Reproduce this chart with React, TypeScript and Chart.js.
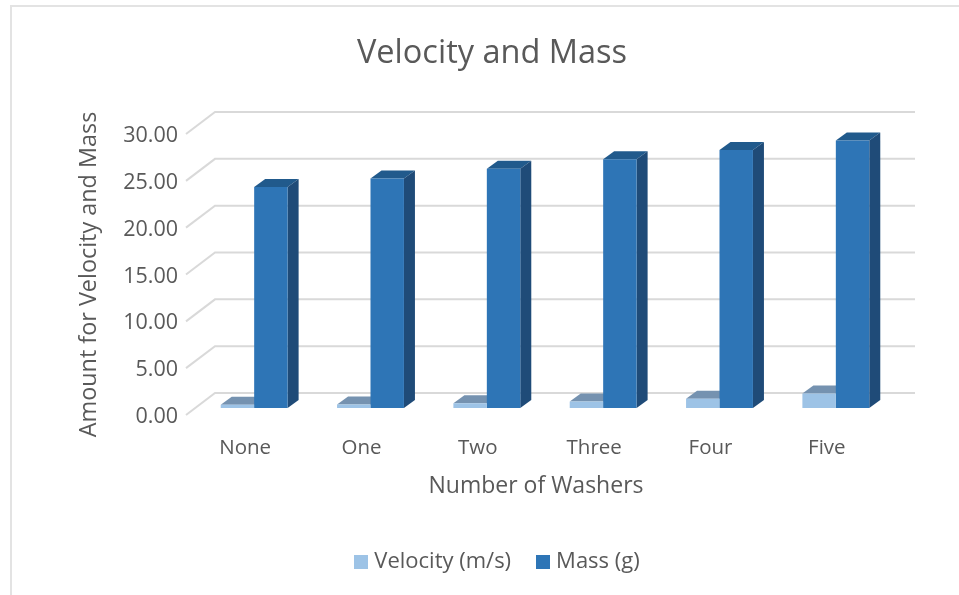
import React, { useEffect, useRef } from "react";
import { Chart, registerables } from "chart.js";

Chart.register(...registerables);

const categories = ["None", "One", "Two", "Three", "Four", "Five"];
const velocity = [0.35, 0.38, 0.5, 0.7, 1.0, 1.55];
const mass = [23.6, 24.5, 25.55, 26.55, 27.55, 28.55];
const FONT = '"Open Sans", sans-serif';
const TEXT = "#595959";
const GRID = "#d9d9d9";
const FLOOR_X = 9;
const FLOOR_Y = -7;
const DX = 11;
const DY = 8;
const WALL_DX = 29;
const WALL_DY = 22;
const seriesColors = ["#9DC3E6", "#2E75B6"];

const faces = [
  { top: "#7592B0", side: "#6A8CAE" },
  { top: "#215A8C", side: "#1F4B78" },
];

const swatch = (color: string) => {
  const c = document.createElement("canvas");
  c.width = 14;
  c.height = 14;
  const g = c.getContext("2d")!;
  g.fillStyle = color;
  g.fillRect(0, 0, 14, 14);
  return c;
};

const depthPlugin = {
  id: "depth",
  afterLayout(chart: any) {
    chart.legend.left += 15;
    chart.legend.top -= 12;
  },
  beforeDraw(chart: any) {
    const { ctx, width, height } = chart;
    ctx.save();
    ctx.fillStyle = "#ffffff";
    ctx.fillRect(0, 0, width, height);
    ctx.strokeStyle = "#e3e3e3";
    ctx.lineWidth = 2;
    ctx.beginPath();
    ctx.moveTo(11, height);
    ctx.lineTo(11, 6);
    ctx.lineTo(width, 6);
    ctx.stroke();
    ctx.restore();
  },
  beforeDatasetsDraw(chart: any) {
    const { ctx, chartArea, scales } = chart;
    ctx.save();
    ctx.strokeStyle = GRID;
    ctx.lineWidth = 2;
    scales.y.ticks.forEach((t: any) => {
      const y = scales.y.getPixelForValue(t.value);
      ctx.beginPath();
      ctx.moveTo(chartArea.left - 1, y);
      ctx.lineTo(chartArea.left - 1 + WALL_DX, y - WALL_DY);
      ctx.lineTo(chartArea.right + 1 + WALL_DX, y - WALL_DY);
      ctx.stroke();
    });
    ctx.restore();
    ctx.save();
    ctx.translate(FLOOR_X, FLOOR_Y);
    chart.data.datasets.forEach((_: any, i: number) => {
      chart.getDatasetMeta(i).data.forEach((bar: any) => {
        const { x, y, base, width } = bar.getProps(["x", "y", "base", "width"], true);
        const l = x - width / 2;
        const r = x + width / 2;
        ctx.fillStyle = faces[i].top;
        ctx.beginPath();
        ctx.moveTo(l, y);
        ctx.lineTo(l + DX, y - DY);
        ctx.lineTo(r + DX, y - DY);
        ctx.lineTo(r, y);
        ctx.closePath();
        ctx.fill();
        ctx.fillStyle = faces[i].side;
        ctx.beginPath();
        ctx.moveTo(r, y);
        ctx.lineTo(r + DX, y - DY);
        ctx.lineTo(r + DX, base - DY);
        ctx.lineTo(r, base);
        ctx.closePath();
        ctx.fill();
      });
    });
    ctx.restore();
    ctx.save();
    ctx.translate(FLOOR_X, FLOOR_Y);
  },
  afterDatasetsDraw(chart: any) {
    chart.ctx.restore();
  },
};

export default function App() {
  const ref = useRef<HTMLCanvasElement>(null);
  useEffect(() => {
    document.body.style.margin = "0";
    const chart = new Chart(ref.current!, {
      type: "bar",
      data: {
        labels: categories,
        datasets: [
          { label: "Velocity (m/s)", data: velocity, backgroundColor: seriesColors[0], borderWidth: 0, clip: false as any },
          { label: "Mass (g)", data: mass, backgroundColor: seriesColors[1], borderWidth: 0, clip: false as any },
        ],
      },
      options: {
        responsive: false,
        animation: false,
        barPercentage: 1,
        categoryPercentage: 0.575,
        layout: { padding: { left: 99, right: 74, top: 10, bottom: 0 } },
        plugins: {
          tooltip: { enabled: false },
          title: {
            display: true,
            text: "Velocity and Mass",
            color: TEXT,
            font: { family: FONT, size: 32.5, weight: "normal" },
            padding: { top: 24.5, bottom: 60.5 },
          },
          legend: {
            position: "bottom",
            labels: {
              color: TEXT,
              font: { family: FONT, size: 22 },
              boxWidth: 4,
              boxHeight: 14,
              padding: 30,
              usePointStyle: true,
              generateLabels: (c: any) =>
                c.data.datasets.map((d: any, i: number) => ({
                  text: d.label,
                  fontColor: TEXT,
                  pointStyle: swatch(seriesColors[i]),
                  datasetIndex: i,
                  lineWidth: 0,
                })),
            },
          },
        },
        scales: {
          x: {
            grid: { display: false, drawTicks: false },
            border: { display: false },
            ticks: { color: TEXT, font: { family: FONT, size: 20.5 }, padding: 21, maxRotation: 0 },
            title: {
              display: true,
              text: "Number of Washers",
              color: TEXT,
              font: { family: FONT, size: 23 },
              padding: { top: 0, bottom: 33 },
            },
            afterFit(s: any) { s.height = 118; },
          },
          y: {
            min: 0,
            max: 30,
            grid: { display: false, drawTicks: false },
            border: { display: false },
            ticks: {
              stepSize: 5,
              color: TEXT,
              font: { family: FONT, size: 21.5 },
              padding: 9,
              labelOffset: 2,
              callback: (v: any) => Number(v).toFixed(2),
            },
            title: {
              display: true,
              text: "Amount for Velocity and Mass",
              color: TEXT,
              font: { family: FONT, size: 23.4 },
              padding: { top: -24, bottom: 0 },
            },
            afterFit(s: any) { s.width = 88; },
          },
        },
      },
      plugins: [depthPlugin],
    } as any);
    return () => chart.destroy();
  }, []);
  return <canvas ref={ref} width={959} height={595} style={{ display: "block" }} />;
}
